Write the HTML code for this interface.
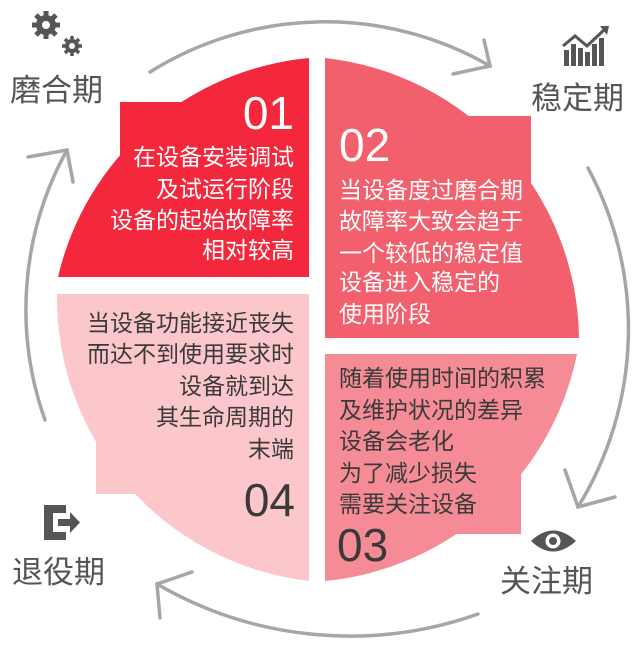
<!DOCTYPE html>
<html><head><meta charset="utf-8"><style>
html,body{margin:0;padding:0;background:#fff;}
svg{display:block;}
text{font-family:"Liberation Sans","Noto Sans CJK SC",sans-serif;}
</style></head><body>
<svg width="640" height="660" viewBox="0 0 640 660" xmlns="http://www.w3.org/2000/svg">
<!-- quadrants -->
<path d="M58,277 A285,285 0 0 1 309,58 L309,277 Z" fill="#f3283c"/>
<rect x="120" y="102" width="189" height="175" fill="#f3283c"/>
<path d="M325,58 A285,285 0 0 1 579,338 L325,338 Z" fill="#f2606e"/>
<rect x="325" y="116" width="206" height="222" fill="#f2606e"/>
<path d="M577,354 A285,285 0 0 1 325,581 L325,354 Z" fill="#f58c95"/>
<rect x="325" y="354" width="196" height="180" fill="#f58c95"/>
<path d="M57,294 L309,294 L309,581 A285,285 0 0 1 57,294 Z" fill="#fcc7cb"/>
<rect x="96" y="294" width="213" height="200" fill="#fcc7cb"/>

<!-- outer arrows -->
<g fill="none" stroke="#a6a6a6" stroke-width="3.5" stroke-linecap="round">
<path d="M150,72 A330,330 0 0 1 490,66"/>
<path d="M484,40 L490,66 L453,74"/>
<path d="M588,168 A340,340 0 0 1 578,507"/>
<path d="M565,470 L578,507 L615,497"/>
<path d="M478,614 A383,383 0 0 1 157,584"/>
<path d="M192,572 L157,584 L160,618"/>
<path d="M45,420 A330,330 0 0 1 67,150"/>
<path d="M28,157 L67,150 L73,182"/>
</g>

<!-- Q1 text -->
<text x="294" y="129" font-size="46" fill="#fff" text-anchor="end" font-weight="300">01</text>
<g font-size="23" fill="#fff" text-anchor="end">
<text x="294" y="165">在设备安装调试</text>
<text x="294" y="197">及试运行阶段</text>
<text x="294" y="228">设备的起始故障率</text>
<text x="294" y="258">相对较高</text>
</g>
<!-- Q2 -->
<text x="339" y="161" font-size="46" fill="#fff">02</text>
<g font-size="23" fill="#fff">
<text x="339" y="198">当设备度过磨合期</text>
<text x="339" y="229">故障率大致会趋于</text>
<text x="339" y="261">一个较低的稳定值</text>
<text x="339" y="290">设备进入稳定的</text>
<text x="339" y="322">使用阶段</text>
</g>
<!-- Q3 -->
<g font-size="23" fill="#3a3a3a">
<text x="339" y="386">随着使用时间的积累</text>
<text x="339" y="418">及维护状况的差异</text>
<text x="339" y="449">设备会老化</text>
<text x="339" y="481">为了减少损失</text>
<text x="339" y="512">需要关注设备</text>
</g>
<text x="337" y="561" font-size="46" fill="#3a3a3a">03</text>
<!-- Q4 -->
<g font-size="23" fill="#3a3a3a" text-anchor="end">
<text x="294" y="331">当设备功能接近丧失</text>
<text x="294" y="362">而达不到使用要求时</text>
<text x="294" y="394">设备就到达</text>
<text x="294" y="425">其生命周期的</text>
<text x="294" y="457">末端</text>
</g>
<text x="295" y="516" font-size="46" fill="#3a3a3a" text-anchor="end">04</text>

<!-- labels -->
<g font-size="31" fill="#555">
<text x="10" y="101">磨合期</text>
<text x="531" y="109">稳定期</text>
<text x="12" y="583">退役期</text>
<text x="500" y="592">关注期</text>
</g>

<!-- gear icons -->
<g fill="#555">
<circle cx="46" cy="25" r="10"/>
<g stroke="#555" stroke-width="5">
<line x1="46" y1="11" x2="46" y2="39"/><line x1="32" y1="25" x2="60" y2="25"/>
<line x1="36" y1="15" x2="56" y2="35"/><line x1="56" y1="15" x2="36" y2="35"/>
</g>
<circle cx="72" cy="46" r="7"/>
<g stroke="#555" stroke-width="3.5">
<line x1="72" y1="36" x2="72" y2="56"/><line x1="62" y1="46" x2="82" y2="46"/>
<line x1="65" y1="39" x2="79" y2="53"/><line x1="79" y1="39" x2="65" y2="53"/>
</g>
</g>
<circle cx="46" cy="25" r="4" fill="#fff"/>
<circle cx="72" cy="46" r="3" fill="#fff"/>

<!-- chart icon -->
<g fill="#555">
<rect x="564" y="50" width="5" height="16"/>
<rect x="571" y="44" width="5" height="22"/>
<rect x="578" y="48" width="5" height="18"/>
<rect x="585" y="52" width="5" height="14"/>
<rect x="592" y="44" width="5" height="22"/>
<rect x="599" y="38" width="5" height="28"/>
<polygon points="600,26 609,26 607,35"/>
</g>
<polyline points="563,46 575,36 587,46 604,30" fill="none" stroke="#555" stroke-width="3"/>

<!-- exit icon -->
<g fill="#555">
<path d="M44,505 H66 V513 H53 V532 H66 V540 H44 Z"/>
<rect x="58" y="519" width="14" height="7"/>
<polygon points="70,512 80,522.5 70,533"/>
</g>

<!-- eye icon -->
<path d="M531,541 Q553,520 576,541 Q553,562 531,541 Z" fill="#555"/>
<circle cx="553" cy="541" r="7.5" fill="#fff"/>
<circle cx="553" cy="541" r="4" fill="#555"/>
</svg>
</body></html>
